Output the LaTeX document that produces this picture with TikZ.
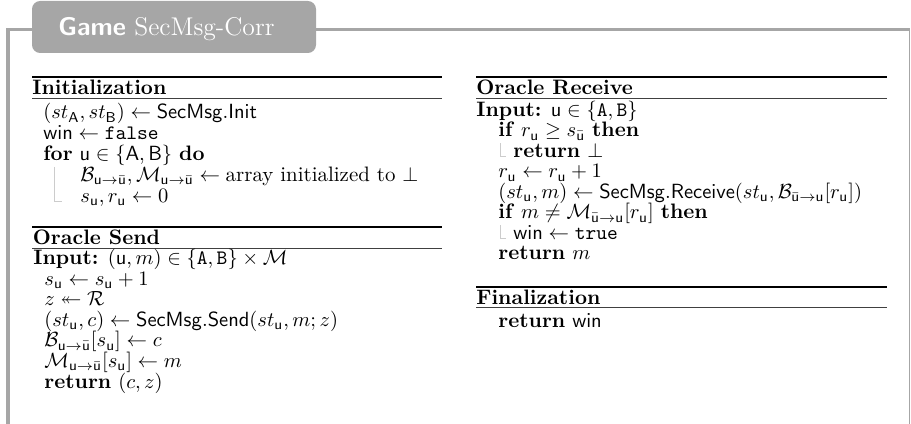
\documentclass[tikz,border=0pt]{standalone}
\usepackage{amsmath,amssymb}
\newcommand{\pU}{\mathsf{u}}
\newcommand{\pUb}{\bar{\mathsf{u}}}
\begin{document}
\begin{tikzpicture}[x=0.4878pt,y=-0.4878pt,
  algline/.style={anchor=base west, inner sep=0pt, font=\fontsize{10.2}{12}\selectfont},
  heading/.style={anchor=base west, inner sep=0pt, font=\fontsize{10.2}{12}\selectfont\bfseries},
  thickrule/.style={line width=0.9pt},
  thinrule/.style={line width=0.45pt, black!75},
  blockbar/.style={black!20, line width=0.4pt},
  framefill/.style={fill=black!35}]
\useasboundingbox (0,0) rectangle (911,424);

% outer frame
\fill[framefill] (6,28) rectangle (10,424);
\fill[framefill] (6,28) rectangle (910,31);
\fill[framefill] (908.5,28) rectangle (910,424);

% title tab
\fill[framefill, rounded corners=4pt] (32,1) rectangle (316,53);
\node[anchor=base west, inner sep=0pt, text=white, font=\fontsize{12.5}{14}\selectfont] (title) at (58,36)
  {\textsf{\bfseries Game} SecMsg-Corr};

% ---------- left column ----------
\draw[thickrule] (32,77) -- (442,77);
\node[heading] (hinit) at (32,95) {Initialization};
\draw[thinrule] (32,98) -- (442,98);
\node[algline] (i1) at (43,119) {$(st_{\mathsf{A}}, st_{\mathsf{B}}) \gets \mathsf{SecMsg.Init}$};
\node[algline] (i2) at (43,140) {$\mathsf{win} \gets \mathtt{false}$};
\node[algline] (i3) at (43,160.5) {\textbf{for} $\pU \in \{\mathsf{A}, \mathsf{B}\}$ \textbf{do}};
\node[algline] (i4) at (80,181.5) {$\mathcal{B}_{\pU\to\pUb}, \mathcal{M}_{\pU\to\pUb} \gets \text{array initialized to } \bot$};
\node[algline] (i5) at (80,202.5) {$s_{\pU}, r_{\pU} \gets 0$};
\draw[blockbar] (54,167) -- (54,201) -- (62,201);

\draw[thickrule] (32,227) -- (442,227);
\node[heading] (hsend) at (32.5,245) {Oracle Send};
\draw[thinrule] (32,248.3) -- (442,248.3);
\node[algline] (s0) at (33,265) {\textbf{Input:} $(\pU, m) \in \{\mathtt{A}, \mathtt{B}\} \times \mathcal{M}$};
\node[algline] (s1) at (44,285.5) {$s_{\pU} \gets s_{\pU} + 1$};
\node[algline] (s2) at (44,306) {$z \twoheadleftarrow \mathcal{R}$};
\node[algline] (s3) at (44,326.5) {$(st_{\pU}, c) \gets \mathsf{SecMsg.Send}(st_{\pU}, m; z)$};
\node[algline] (s4) at (44,347) {$\mathcal{B}_{\pU\to\pUb}[s_{\pU}] \gets c$};
\node[algline] (s5) at (44,367.5) {$\mathcal{M}_{\pU\to\pUb}[s_{\pU}] \gets m$};
\node[algline] (s6) at (44,388) {\textbf{return} $(c, z)$};

% ---------- right column ----------
\draw[thickrule] (476,77) -- (887,77);
\node[heading] (hrecv) at (476,95) {Oracle Receive};
\draw[thinrule] (476,98) -- (887,98);
\node[algline] (r0) at (476,116.5) {\textbf{Input:} $\pU \in \{\mathtt{A}, \mathtt{B}\}$};
\node[algline] (r1) at (498,137) {\textbf{if} $r_{\pU} \geq s_{\pUb}$ \textbf{then}};
\node[algline] (r2) at (513,157.5) {\textbf{return} $\bot$};
\draw[blockbar] (500,143.5) -- (500,156.5) -- (506,156.5);
\node[algline] (r3) at (498,178) {$r_{\pU} \gets r_{\pU} + 1$};
\node[algline] (r4) at (498,198.5) {$(st_{\pU}, m) \gets \mathsf{SecMsg.Receive}(st_{\pU}, \mathcal{B}_{\pUb\to\pU}[r_{\pU}])$};
\node[algline] (r5) at (498,219) {\textbf{if} $m \neq \mathcal{M}_{\pUb\to\pU}[r_{\pU}]$ \textbf{then}};
\node[algline] (r6) at (513,239.5) {$\mathsf{win} \gets \mathtt{true}$};
\draw[blockbar] (500,225.5) -- (500,238.5) -- (506,238.5);
\node[algline] (r7) at (498,260) {\textbf{return} $m$};

\draw[thickrule] (476,286.7) -- (887,286.7);
\node[heading] (hfin) at (476,305) {Finalization};
\draw[thinrule] (476,307.7) -- (887,307.7);
\node[algline] (f1) at (498,328) {\textbf{return} $\mathsf{win}$};
\end{tikzpicture}
\end{document}
